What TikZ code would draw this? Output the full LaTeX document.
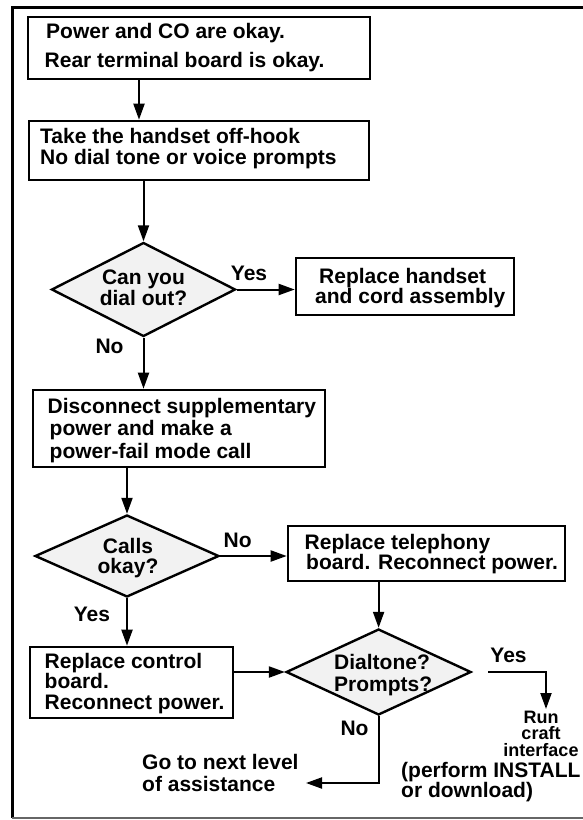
\documentclass[tikz,border=0pt]{standalone}
\usepackage{fontspec}
\setmainfont{Liberation Sans}
\usetikzlibrary{shapes.geometric,arrows.meta}

\begin{document}
\begin{tikzpicture}[x=1pt,y=-1pt,
  txt/.style={inner sep=0pt, align=left, font=\bfseries\fontsize{21}{#1}\selectfont},
  txt/.default=21,
  ctxt/.style={inner sep=0pt, align=center, font=\bfseries\fontsize{21}{#1}\selectfont},
  ctxt/.default=21,
  box/.style={draw, line width=2.6pt, rectangle, inner sep=0pt},
  decision/.style={draw, line width=2.4pt, diamond, fill=black!5, inner sep=0pt},
  flow/.style={line width=2pt, -{Triangle[length=16pt,width=11pt]}},
  tag/.style={inner sep=0pt, font=\bfseries\fontsize{21}{21}\selectfont},
  frame/.style={line width=3pt},
]
\useasboundingbox (0,0) rectangle (582,820);

% outer frame
\draw[frame] (590,7) -- (12,7) -- (12,818);
\draw[line width=1.5pt, black!60] (12,818) -- (590,818);

% process boxes
\node[box, minimum width=342pt, minimum height=62pt] (b1) at (199,48) {};
\node[txt=29, anchor=west] (b1t) at (44.5,48)
  {\hspace*{1.5pt}Power and CO are okay.\\Rear terminal board is okay.};

\node[box, minimum width=340pt, minimum height=59pt] (b2) at (199,150.5) {};
\node[txt=21.5, anchor=west] (b2t) at (40,148.5)
  {Take the handset off-hook\\No dial tone or voice prompts};

\node[box, minimum width=218pt, minimum height=57pt] (b3) at (405,286.5) {};
\node[txt=20.5, anchor=west] (b3t) at (315,288)
  {\hspace*{4pt}Replace handset\\and cord assembly};

\node[box, minimum width=292pt, minimum height=77pt] (b4) at (179,428.5) {};
\node[txt=22.5, anchor=west] (b4t) at (47.5,430.5)
  {Disconnect supplementary\\\hspace*{2pt}power and make a\\\hspace*{2pt}power-fail mode call};

\node[box, minimum width=277pt, minimum height=55pt] (b5) at (426.5,553.5) {};
\node[txt=20.5, anchor=west] (b5t) at (304.5,554)
  {Replace telephony\\\hspace*{1.5pt}board. Reconnect power.};

\node[box, minimum width=203pt, minimum height=71pt] (b6) at (131.5,682.5) {};
\node[txt=20.5, anchor=west] (b6t) at (44.5,683.5)
  {Replace control\\board.\\Reconnect power.};

% decisions
\node[decision, minimum width=184pt, minimum height=94pt] (d1) at (143.5,289.5) {};
\node[ctxt=20.5] (d1t) at (143.5,288) {Can you\\dial out?};

\node[decision, minimum width=184pt, minimum height=82pt] (d2) at (127,556) {};
\node[ctxt=20.5] (d2t) at (128,558) {Calls\\okay?};

\node[decision, minimum width=185pt, minimum height=86pt] (d3) at (378.6,672) {};
\node[txt=22, anchor=west] (d3t) at (334,675) {Dialtone?\\Prompts?};

% terminal texts
\node[txt=22, anchor=west] (goto) at (142,772.5) {Go to next level\\of assistance};
\node[txt=20, anchor=west] (perform) at (401,782) {(perform INSTALL\\or download)};
\node[inner sep=0pt, align=center, font=\bfseries\fontsize{18}{16.5}\selectfont] (run) at (541,733.5)
  {Run\\craft\\interface};

\coordinate (yesEnd) at (546,709);
\coordinate (noEnd) at (306,783);

% branch labels
\node[tag] (yes1) at (249,273) {Yes};
\node[tag] (no1) at (109.5,346) {No};
\node[tag] (no2) at (237.6,540) {No};
\node[tag] (yes2) at (92,614) {Yes};
\node[tag] (yes3) at (508.5,655) {Yes};
\node[tag] (no3) at (354.5,728) {No};

% connectors
\draw[flow] ([xshift=-60pt]b1.south) -- ([xshift=-60pt]b1.south |- b2.north);
\draw[flow] (b2.south -| d1.north) -- (d1.north);
\draw[flow] (d1.east) -- (d1.east -| b3.west);
\draw[flow] (d1.south) -- (d1.south |- b4.north);
\draw[flow] (b4.south -| d2.north) -- (d2.north);
\draw[flow] (d2.east) -- (d2.east -| b5.west);
\draw[flow] (b5.south -| d3.north) -- (d3.north);
\draw[flow] (d2.south) -- (d2.south |- b6.north);
\draw[flow] (d3.west -| b6.east) -- (d3.west);
\draw[flow] ([xshift=16pt]d3.east) -| (yesEnd);
\draw[flow] (d3.south) |- (noEnd);
\end{tikzpicture}
\end{document}
